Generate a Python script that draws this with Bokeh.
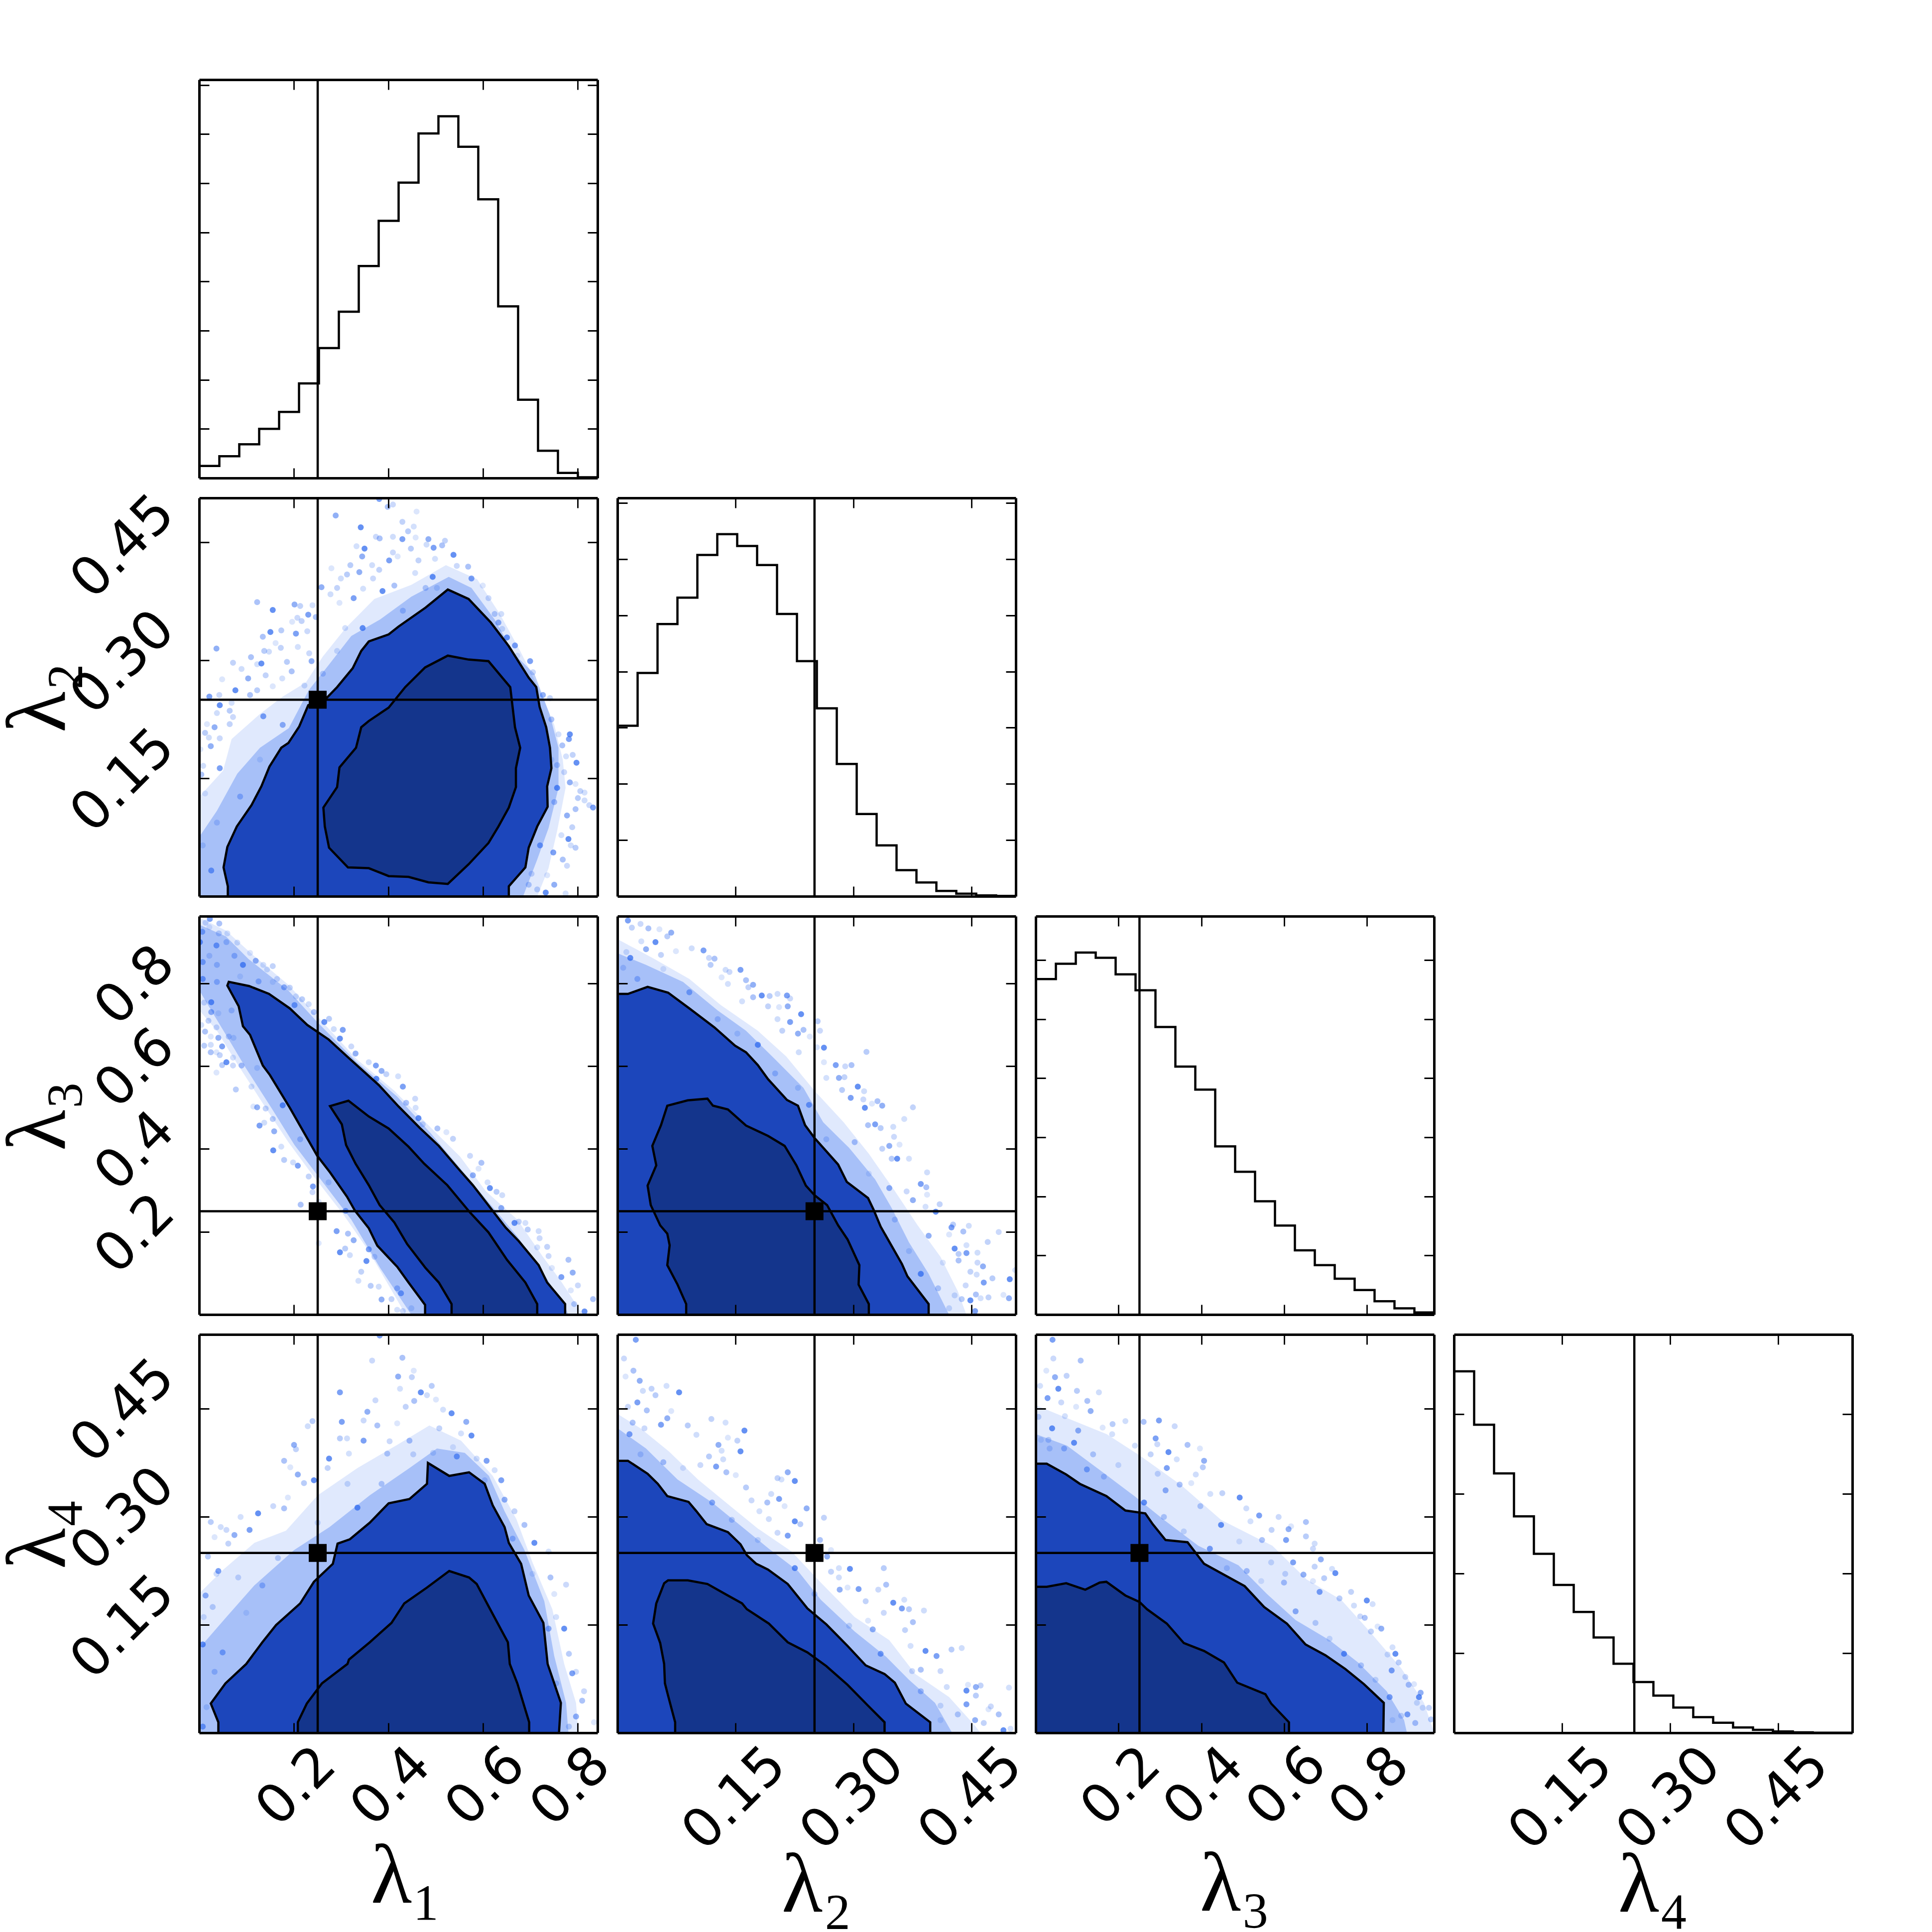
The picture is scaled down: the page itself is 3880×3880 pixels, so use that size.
from bokeh.plotting import figure
from bokeh.layouts import column, row as hrow
from bokeh.models import Range1d, LinearAxis, FixedTicker, Span, ColumnDataSource
from bokeh.embed import file_html
from bokeh.resources import INLINE
import math

# parameter axes
LIMITS = {1: 0.842, 2: 0.506, 3: 0.962, 4: 0.553}
TICKS = {1: [0.2, 0.4, 0.6, 0.8], 2: [0.15, 0.30, 0.45], 3: [0.2, 0.4, 0.6, 0.8], 4: [0.15, 0.30, 0.45]}
TICK_LABELS = {1: ["0.2", "0.4", "0.6", "0.8"], 2: ["0.15", "0.30", "0.45"], 3: ["0.2", "0.4", "0.6", "0.8"], 4: ["0.15", "0.30", "0.45"]}
NAMES = {1: "λ₁", 2: "λ₂", 3: "λ₃", 4: "λ₄"}
TRUTH = {1: 0.25, 2: 0.25, 3: 0.25, 4: 0.25}

# histograms (20 bins over each axis)
HIST = {
    1: [.25, .448, .693, 1.007, 1.35, 1.93, 2.65, 3.39, 4.32, 5.24, 6.02, 7.02, 7.37, 6.75, 5.68, 3.50, 1.60, .56, .11, .02],
    2: [3.04, 3.98, 4.85, 5.32, 6.08, 6.45, 6.24, 5.90, 5.03, 4.19, 3.35, 2.36, 1.47, .91, .47, .25, .10, .05, .02, .01],
    3: [5.68, 5.94, 6.13, 6.04, 5.76, 5.49, 4.87, 4.20, 3.81, 2.85, 2.42, 1.92, 1.51, 1.09, .84, .61, .42, .23, .11, .04],
    4: [4.54, 3.87, 3.26, 2.72, 2.25, 1.86, 1.52, 1.20, .87, .64, .47, .32, .20, .13, .07, .04, .02, .01, .004, .004],
}
HIST_TOP = {1: 8.11, 2: 7.09, 3: 6.74, 4: 5.0}
HIST_YTICKS = {1: [1, 2, 3, 4, 5, 6, 7, 8], 2: [1, 2, 3, 4, 5, 6, 7], 3: [1, 2, 3, 4, 5, 6], 4: [1, 2, 3, 4]}

# contours
OUTER_21 = [(.060,0),(.060,.013),(.051,.037),(.059,.063),(.079,.089),(.110,.116),(.131,.140),(.148,.165),(.173,.189),(.188,.195),(.211,.216),(.230,.243),(.270,.253),(.291,.266),(.324,.290),(.342,.312),(.358,.324),(.400,.333),(.421,.343),(.478,.367),(.525,.390),(.569,.378),(.616,.348),(.654,.318),(.696,.278),(.712,.266),(.719,.241),(.733,.215),(.741,.189),(.744,.163),(.735,.140),(.736,.114),(.714,.089),(.696,.062),(.689,.037),(.654,.013),(.654,0)]
INNER_21 = [(.262,.113),(.265,.089),(.274,.062),(.314,.037),(.358,.036),(.400,.026),(.442,.025),(.484,.018),(.525,.016),(.569,.041),(.611,.068),(.632,.089),(.654,.113),(.669,.139),(.669,.163),(.678,.189),(.667,.215),(.657,.266),(.611,.299),(.569,.301),(.525,.306),(.477,.291),(.435,.266),(.400,.240),(.358,.223),(.342,.215),(.331,.189),(.296,.164),(.291,.139)]
OUTER_31 = [(.059,.795),(.062,.804),(.105,.794),(.147,.775),(.191,.740),(.228,.700),(.273,.665),(.315,.621),(.379,.555),(.421,.503),(.466,.451),(.506,.408),(.551,.348),(.578,.313),(.620,.251),(.647,.211),(.675,.178),(.717,.120),(.735,.078),(.773,.026),(.773,0),(.477,0),(.477,.024),(.442,.078),(.418,.116),(.376,.167),(.358,.209),(.329,.251),(.312,.285),(.276,.344),(.249,.384),(.231,.420),(.191,.500),(.149,.579),(.134,.602),(.107,.676),(.092,.697),(.083,.745)]
INNER_31 = [(.276,.504),(.315,.517),(.358,.479),(.400,.450),(.442,.406),(.475,.365),(.524,.313),(.572,.247),(.611,.199),(.650,.133),(.689,.078),(.714,.026),(.714,0),(.533,0),(.533,.026),(.506,.078),(.478,.113),(.439,.171),(.412,.223),(.381,.265),(.358,.313),(.330,.365),(.310,.410),(.301,.460)]
OUTER_41 = [(.040,0),(.040,.015),(.024,.041),(.055,.069),(.099,.096),(.133,.126),(.162,.150),(.213,.180),(.242,.210),(.282,.235),(.292,.263),(.318,.269),(.360,.292),(.400,.319),(.444,.325),(.481,.346),(.483,.375),(.528,.357),(.570,.362),(.603,.346),(.620,.316),(.645,.286),(.654,.264),(.680,.235),(.696,.191),(.727,.153),(.736,.096),(.764,.042),(.760,0)]
INNER_41 = [(.208,0),(.208,.015),(.227,.041),(.259,.069),(.313,.096),(.316,.102),(.360,.126),(.406,.153),(.433,.180),(.481,.202),(.528,.225),(.570,.216),(.586,.207),(.612,.175),(.652,.126),(.656,.096),(.672,.069),(.697,.015),(.697,0)]
OUTER_32 = [(0,.775),(.013,.775),(.038,.792),(.064,.778),(.091,.740),(.123,.694),(.149,.650),(.163,.634),(.178,.603),(.191,.569),(.215,.519),(.229,.505),(.238,.458),(.250,.427),(.280,.363),(.291,.321),(.318,.282),(.325,.254),(.334,.213),(.361,.123),(.368,.093),(.395,.026),(.395,0),(0,0)]
INNER_32 = [(.087,0),(.087,.026),(.076,.073),(.063,.120),(.066,.168),(.063,.196),(.054,.216),(.042,.265),(.038,.312),(.049,.361),(.044,.408),(.055,.458),(.063,.505),(.089,.518),(.114,.522),(.121,.505),(.140,.496),(.163,.457),(.191,.432),(.212,.408),(.227,.361),(.239,.312),(.250,.289),(.266,.265),(.280,.216),(.292,.182),(.307,.120),(.306,.073),(.319,.026),(.319,0)]
OUTER_42 = [(0,.378),(.013,.378),(.038,.360),(.051,.346),(.063,.329),(.090,.321),(.100,.308),(.113,.290),(.140,.279),(.156,.262),(.164,.247),(.176,.235),(.191,.227),(.216,.207),(.241,.173),(.265,.151),(.292,.121),(.315,.094),(.339,.082),(.352,.070),(.366,.041),(.397,.015),(.397,0),(0,0)]
INNER_42 = [(.073,0),(.073,.015),(.064,.052),(.060,.069),(.059,.096),(.054,.125),(.045,.152),(.049,.180),(.059,.208),(.064,.212),(.089,.212),(.114,.207),(.140,.191),(.158,.180),(.164,.172),(.192,.152),(.216,.126),(.241,.112),(.265,.093),(.292,.067),(.318,.038),(.339,.015),(.339,0)]
OUTER_43 = [(0,.374),(.026,.374),(.073,.359),(.106,.346),(.170,.329),(.216,.309),(.264,.305),(.282,.290),(.313,.268),(.366,.265),(.406,.235),(.504,.204),(.551,.175),(.606,.152),(.651,.123),(.699,.108),(.747,.089),(.792,.068),(.840,.042),(.839,0),(0,0)]
INNER_43 = [(0,.203),(.026,.203),(.073,.208),(.119,.199),(.154,.209),(.170,.210),(.216,.191),(.250,.182),(.268,.172),(.316,.152),(.357,.125),(.406,.114),(.454,.098),(.486,.070),(.554,.054),(.568,.041),(.611,.015),(.611,0),(0,0)]

# extent of each sample cloud (faint outskirts)
CLOUD_21 = [(0,.127),(.050,.160),(.068,.200),(.128,.232),(.176,.254),(.225,.272),(.261,.305),(.309,.341),(.370,.378),(.448,.396),(.521,.421),(.587,.403),(.635,.359),(.678,.312),(.720,.261),(.750,.218),(.768,.174),(.774,.138),(.756,.083),(.738,.036),(.714,0),(0,0)]
CLOUD_31 = [(0,.959),(.056,.928),(.116,.866),(.188,.797),(.249,.721),(.333,.617),(.412,.541),(.490,.451),(.551,.382),(.605,.299),(.672,.230),(.726,.140),(.762,.085),(.811,0),(.436,0),(.358,.154),(.303,.244),(.237,.341),(.188,.417),(.140,.500),(.074,.617),(.037,.686),(0,.735)]
CLOUD_41 = [(0,.194),(.049,.226),(.116,.264),(.183,.281),(.250,.330),(.334,.368),(.418,.400),(.486,.427),(.553,.406),(.620,.357),(.670,.297),(.704,.237),(.746,.172),(.771,.096),(.796,.042),(.801,0),(0,0)]
CLOUD_32 = [(0,.907),(.047,.859),(.091,.811),(.131,.748),(.178,.686),(.214,.624),(.250,.541),(.287,.465),(.319,.389),(.352,.299),(.381,.216),(.410,.140),(.432,.057),(.443,0),(0,0)]
CLOUD_42 = [(0,.443),(.029,.423),(.065,.391),(.102,.352),(.142,.316),(.178,.284),(.221,.252),(.258,.209),(.301,.161),(.345,.129),(.378,.082),(.421,.050),(.454,.010),(.461,0),(0,0)]
CLOUD_43 = [(0,.455),(.068,.439),(.171,.415),(.254,.384),(.351,.344),(.447,.296),(.571,.260),(.654,.213),(.737,.185),(.806,.141),(.882,.090),(.937,.042),(.962,0),(0,0)]

# densest part of each sample cloud
DENSE_21 = [(0,.076),(.037,.109),(.080,.156),(.128,.189),(.189,.214),(.231,.262),(.273,.294),(.321,.331),(.382,.352),(.448,.381),(.527,.406),(.575,.392),(.624,.352),(.665,.308),(.708,.283),(.740,.232),(.759,.189),(.759,.138),(.738,.087),(.714,.047),(.684,0),(0,0)]
DENSE_31 = [(0,.942),(.056,.914),(.104,.859),(.188,.783),(.249,.707),(.333,.610),(.418,.527),(.490,.437),(.551,.354),(.611,.272),(.672,.189),(.720,.113),(.774,.016),(.780,0),(.448,0),(.382,.113),(.321,.230),(.261,.320),(.201,.410),(.152,.500),(.098,.596),(.062,.665),(.025,.735),(0,.783)]
DENSE_41 = [(0,.118),(.057,.161),(.116,.205),(.200,.254),(.275,.286),(.360,.330),(.444,.368),(.502,.395),(.561,.389),(.612,.357),(.645,.308),(.687,.254),(.729,.183),(.750,.107),(.775,.042),(.780,0),(0,0)]
DENSE_32 = [(0,.873),(.036,.845),(.083,.804),(.127,.735),(.163,.686),(.200,.617),(.236,.548),(.261,.465),(.294,.403),(.327,.327),(.348,.258),(.370,.175),(.395,.099),(.421,0),(0,0)]
DENSE_42 = [(0,.423),(.036,.395),(.076,.352),(.120,.320),(.156,.288),(.192,.256),(.229,.225),(.258,.185),(.301,.141),(.341,.106),(.370,.074),(.403,.042),(.425,0),(0,0)]
DENSE_43 = [(0,.415),(.075,.399),(.157,.364),(.240,.328),(.309,.296),(.392,.260),(.489,.233),(.558,.193),(.627,.157),(.709,.129),(.778,.098),(.847,.058),(.889,.018),(.896,0),(0,0)]

# individual samples
SAMPLES_21 = [(.380,.505),(.409,.498),(.398,.495),(.459,.489),(.288,.484),(.429,.476),(.453,.470),(.341,.469),(.441,.464),(.409,.457),(.429,.454),(.373,.457),(.381,.455),(.457,.456),(.484,.454),(.519,.452),(.332,.445),(.349,.442),(.447,.442),(.480,.447),(.495,.443),(.409,.437),(.513,.446),(.419,.432),(.344,.432),(.463,.427),(.498,.429),(.537,.434),(.319,.421),(.365,.421),(.401,.427),(.544,.420),(.568,.419),(.279,.417),(.338,.412),(.380,.415),(.456,.411),(.493,.406),(.312,.409),(.299,.404),(.575,.404),(.367,.404),(.412,.395),(.599,.395),(.258,.393),(.291,.392),(.346,.391),(.387,.388),(.478,.392),(.277,.384),(.326,.379),(.611,.379),(.122,.374),(.296,.373),(.201,.371),(.213,.369),(.239,.370),(.155,.364),(.624,.359),(.638,.359),(.230,.358),(.207,.354),(.246,.355),(.196,.349),(.632,.348),(.216,.350),(.308,.341),(.150,.336),(.173,.338),(.640,.340),(.204,.334),(.228,.337),(.134,.330),(.161,.322),(.036,.315),(.172,.316),(.208,.317),(.650,.329),(.137,.312),(.147,.311),(.667,.319),(.232,.309),(.109,.304),(.672,.306),(.237,.299),(.071,.297),(.122,.295),(.131,.296),(.185,.298),(.089,.289),(.699,.299),(.705,.285),(.195,.286),(.048,.276),(.103,.277),(.140,.281),(.175,.277),(.076,.262),(.122,.262),(.222,.268),(.021,.254),(.042,.256),(.107,.256),(.155,.267),(.726,.256),(.741,.252),(.068,.246),(.043,.243),(.064,.236),(.037,.233),(.135,.229),(.071,.228),(.744,.225),(.016,.219),(.032,.215),(.064,.219),(.759,.206),(.783,.206),(.012,.208),(.020,.202),(.781,.200),(.043,.201),(.767,.192),(.002,.187),(.024,.191),(.789,.180),(.775,.178),(.797,.170),(.756,.167),(.008,.166),(.043,.163),(.771,.158),(.004,.155),(.795,.143),(.783,.145),(.805,.134),(.814,.132),(.756,.138),(.800,.125),(.814,.122),(.832,.113),(.824,.116),(.795,.111),(.012,.131),(.777,.103),(.788,.088),(.765,.078),(.780,.073),(.795,.062),(.785,.065),(.748,.056),(.777,.039),(.768,.047),(.735,.027),(.750,.015),(.714,.009),(.774,.004),(.732,.005),(.696,.015),(.007,.065),(.025,.033),(.037,.094),(.086,.127),(.128,.174),(.176,.218),(.261,.283),(.291,.312),(.345,.341),(.430,.363),(.502,.392),(.720,.065),(.702,.029),(.750,.120),(.744,.174)]
SAMPLES_31 = [(.022,.956),(.013,.947),(.042,.945),(.021,.936),(.006,.925),(.041,.921),(.059,.921),(.001,.900),(.057,.900),(.080,.899),(.036,.892),(.021,.867),(.074,.867),(.107,.874),(.119,.855),(.155,.842),(.135,.845),(.092,.845),(.037,.845),(.143,.834),(.007,.811),(.164,.811),(.125,.805),(.155,.804),(.179,.791),(.191,.790),(.204,.769),(.025,.755),(.217,.762),(.231,.750),(.201,.748),(.010,.754),(.242,.731),(.040,.728),(.025,.731),(.019,.710),(.004,.700),(.264,.707),(.274,.715),(.284,.690),(.303,.688),(.036,.694),(.012,.684),(.024,.672),(.040,.669),(.062,.672),(.072,.669),(.297,.667),(.010,.650),(.024,.652),(.048,.648),(.321,.648),(.024,.634),(.036,.634),(.330,.631),(.043,.627),(.071,.621),(.057,.610),(.048,.603),(.358,.610),(.373,.602),(.071,.602),(.089,.602),(.036,.585),(.385,.589),(.395,.581),(.420,.576),(.374,.570),(.077,.544),(.110,.551),(.430,.551),(.456,.522),(.437,.512),(.114,.503),(.122,.501),(.140,.498),(.457,.500),(.463,.475),(.155,.473),(.137,.464),(.127,.457),(.472,.460),(.503,.450),(.522,.441),(.158,.443),(.536,.425),(.173,.406),(.156,.397),(.179,.374),(.198,.368),(.208,.360),(.572,.384),(.596,.367),(.590,.353),(.578,.337),(.231,.334),(.609,.320),(.614,.306),(.628,.297),(.640,.289),(.240,.310),(.239,.296),(.214,.266),(.252,.273),(.638,.258),(.675,.225),(.689,.222),(.666,.222),(.694,.206),(.717,.202),(.290,.202),(.719,.185),(.314,.196),(.252,.173),(.326,.180),(.735,.164),(.714,.163),(.297,.151),(.308,.160),(.318,.144),(.358,.158),(.738,.142),(.780,.133),(.745,.113),(.789,.102),(.342,.104),(.336,.082),(.353,.130),(.362,.070),(.379,.068),(.765,.091),(.800,.071),(.832,.038),(.785,.059),(.385,.037),(.406,.038),(.418,.012),(.814,.008),(.792,.026),(.448,.016),(.426,.052),(.430,.009),(.037,.804),(.086,.817),(.007,.852),(.068,.735),(.122,.596),(.176,.506),(.213,.424),(.273,.320),(.309,.251),(.370,.140),(.418,.064)]
SAMPLES_41 = [(.381,.552),(.365,.517),(.429,.521),(.453,.503),(.420,.495),(.449,.494),(.424,.478),(.468,.473),(.491,.482),(.481,.469),(.297,.473),(.372,.462),(.454,.461),(.500,.463),(.355,.446),(.436,.453),(.515,.449),(.533,.444),(.239,.433),(.229,.426),(.301,.432),(.347,.434),(.376,.427),(.418,.430),(.564,.432),(.507,.423),(.553,.416),(.575,.413),(.297,.409),(.312,.409),(.347,.406),(.402,.405),(.444,.406),(.536,.397),(.200,.400),(.204,.394),(.316,.388),(.274,.381),(.397,.388),(.586,.381),(.607,.378),(.452,.387),(.179,.378),(.192,.369),(.208,.359),(.271,.368),(.624,.365),(.242,.351),(.221,.347),(.313,.346),(.638,.351),(.156,.315),(.179,.312),(.187,.327),(.645,.324),(.666,.308),(.087,.300),(.124,.305),(.024,.293),(.045,.286),(.106,.282),(.057,.282),(.687,.289),(.032,.272),(.074,.275),(.061,.263),(.738,.252),(.708,.264),(.018,.245),(.036,.221),(.040,.225),(.775,.206),(.742,.216),(.750,.193),(.013,.191),(.028,.175),(.754,.161),(.771,.145),(.781,.110),(.796,.085),(.788,.083),(.813,.058),(.809,.045),(.834,.015),(.796,.023),(.781,.009),(.009,.161),(.007,.123),(.032,.085),(.015,.036),(.007,.009),(.082,.216),(.133,.205),(.099,.167),(.049,.112),(.166,.243),(.250,.292),(.334,.313),(.385,.346),(.494,.389),(.544,.384),(.603,.351),(.662,.270),(.704,.221),(.738,.145),(.754,.069)]
SAMPLES_32 = [(.013,.952),(.029,.944),(.039,.933),(.053,.931),(.068,.923),(.018,.935),(.030,.902),(.048,.900),(.063,.914),(.094,.885),(.109,.880),(.116,.862),(.123,.860),(.074,.878),(.036,.883),(.055,.869),(.011,.876),(.016,.862),(.118,.845),(.137,.833),(.156,.833),(.142,.828),(.163,.808),(.132,.815),(.172,.797),(.166,.791),(.140,.799),(.183,.771),(.193,.770),(.203,.775),(.215,.771),(.219,.764),(.172,.767),(.205,.743),(.216,.745),(.191,.745),(.158,.757),(.233,.726),(.254,.709),(.203,.714),(.219,.707),(.257,.686),(.236,.688),(.244,.672),(.229,.679),(.209,.686),(.253,.646),(.262,.645),(.316,.635),(.230,.634),(.277,.603),(.289,.600),(.297,.603),(.262,.610),(.281,.572),(.288,.574),(.265,.572),(.305,.551),(.285,.543),(.313,.540),(.296,.524),(.312,.520),(.330,.516),(.323,.510),(.336,.505),(.375,.501),(.364,.473),(.314,.500),(.334,.451),(.350,.454),(.327,.460),(.351,.430),(.318,.458),(.358,.411),(.345,.408),(.336,.401),(.370,.377),(.355,.377),(.348,.377),(.393,.344),(.385,.316),(.367,.298),(.392,.308),(.393,.290),(.375,.277),(.409,.267),(.391,.261),(.404,.249),(.426,.218),(.446,.215),(.424,.211),(.484,.200),(.439,.201),(.421,.194),(.395,.191),(.470,.176),(.443,.168),(.428,.160),(.433,.147),(.457,.150),(.443,.149),(.457,.126),(.433,.131),(.413,.126),(.464,.117),(.448,.104),(.505,.108),(.498,.086),(.476,.088),(.456,.097),(.465,.078),(.442,.071),(.455,.049),(.490,.048),(.497,.040),(.471,.042),(.461,.040),(.448,.035),(.437,.038),(.428,.047),(.454,.009),(.007,.838),(.025,.811),(.058,.835),(.091,.779),(.127,.714),(.152,.679),(.178,.652),(.200,.583),(.229,.548),(.243,.507),(.265,.424),(.301,.417),(.319,.341),(.345,.306),(.352,.230),(.370,.154),(.385,.099),(.407,.064),(.421,.016)]
SAMPLES_42 = [(.023,.546),(.008,.520),(.020,.503),(.010,.495),(.028,.489),(.043,.478),(.062,.482),(.078,.473),(.048,.469),(.032,.475),(.025,.459),(.013,.453),(.037,.448),(.068,.447),(.063,.437),(.119,.436),(.137,.431),(.161,.420),(.089,.427),(.100,.414),(.055,.428),(.034,.423),(.019,.431),(.140,.410),(.128,.400),(.152,.406),(.132,.392),(.156,.391),(.116,.384),(.134,.380),(.125,.370),(.105,.372),(.138,.362),(.150,.358),(.216,.362),(.203,.354),(.208,.352),(.225,.350),(.163,.341),(.195,.332),(.205,.325),(.170,.323),(.190,.320),(.212,.315),(.240,.312),(.262,.299),(.180,.308),(.225,.294),(.232,.290),(.192,.297),(.216,.274),(.203,.278),(.257,.268),(.271,.254),(.266,.245),(.271,.224),(.281,.229),(.295,.228),(.338,.229),(.281,.216),(.306,.200),(.331,.199),(.341,.206),(.292,.202),(.282,.199),(.315,.183),(.364,.185),(.350,.181),(.370,.172),(.389,.170),(.361,.173),(.338,.167),(.375,.154),(.318,.156),(.324,.144),(.365,.143),(.372,.121),(.391,.114),(.424,.116),(.437,.118),(.405,.107),(.410,.086),(.385,.088),(.445,.067),(.455,.064),(.461,.066),(.497,.063),(.443,.059),(.455,.052),(.418,.064),(.443,.040),(.474,.037),(.484,.026),(.471,.033),(.454,.018),(.465,.014),(.499,.006),(.490,.004),(.432,.026),(.410,.038),(.015,.415),(.029,.387),(.058,.376),(.083,.368),(.120,.320),(.145,.296),(.178,.268),(.225,.229),(.250,.193),(.294,.149),(.334,.110),(.374,.086),(.385,.058),(.410,.018)]
SAMPLES_43 = [(.040,.546),(.042,.520),(.108,.517),(.025,.503),(.046,.494),(.074,.496),(.010,.482),(.054,.478),(.099,.475),(.152,.473),(.028,.465),(.061,.459),(.124,.461),(.097,.453),(.132,.447),(.006,.439),(.070,.440),(.039,.423),(.185,.429),(.216,.433),(.297,.434),(.335,.426),(.260,.432),(.161,.424),(.102,.420),(.030,.407),(.184,.415),(.092,.403),(.138,.387),(.239,.399),(.289,.409),(.293,.401),(.366,.400),(.396,.395),(.406,.378),(.277,.387),(.340,.380),(.320,.390),(.403,.369),(.386,.359),(.316,.368),(.294,.360),(.347,.345),(.375,.347),(.313,.337),(.450,.333),(.421,.332),(.492,.327),(.397,.315),(.508,.312),(.539,.302),(.586,.300),(.652,.293),(.616,.287),(.610,.283),(.569,.282),(.518,.294),(.447,.289),(.652,.273),(.673,.263),(.604,.268),(.669,.256),(.546,.268),(.491,.266),(.688,.241),(.673,.231),(.715,.228),(.723,.222),(.696,.215),(.568,.237),(.621,.237),(.602,.221),(.599,.209),(.669,.211),(.646,.220),(.761,.196),(.813,.179),(.799,.184),(.733,.187),(.768,.177),(.685,.196),(.783,.162),(.794,.160),(.825,.148),(.834,.145),(.809,.141),(.861,.119),(.868,.110),(.876,.098),(.849,.109),(.859,.087),(.892,.078),(.900,.067),(.913,.068),(.929,.056),(.949,.035),(.934,.035),(.925,.050),(.954,.019),(.920,.042),(.897,.026),(.033,.395),(.068,.395),(.012,.407),(.123,.366),(.164,.356),(.199,.372),(.261,.320),(.309,.300),(.357,.280),(.420,.256),(.461,.229),(.509,.225),(.544,.211),(.627,.169),(.675,.153),(.709,.131),(.744,.110),(.785,.094),(.820,.074),(.854,.050),(.882,.024),(.916,.014),(.861,.018)]

PANELS = {
    (2, 1): (SAMPLES_21, CLOUD_21, DENSE_21, OUTER_21, INNER_21),
    (3, 1): (SAMPLES_31, CLOUD_31, DENSE_31, OUTER_31, INNER_31),
    (4, 1): (SAMPLES_41, CLOUD_41, DENSE_41, OUTER_41, INNER_41),
    (3, 2): (SAMPLES_32, CLOUD_32, DENSE_32, OUTER_32, INNER_32),
    (4, 2): (SAMPLES_42, CLOUD_42, DENSE_42, OUTER_42, INNER_42),
    (4, 3): (SAMPLES_43, CLOUD_43, DENSE_43, OUTER_43, INNER_43),
}

# styling
BLACK = "#000000"
SPINE = 5.0
TICK_W = 2.8
TICK_LEN = 20
LINE_W = 4.5
DOT = "#2462ee"
DOT_ALPHAS = [.6, .24, .38, .16, .5, .28, .2, .7, .32, .22]
OUTER_FILL = "#1c46bb"
INNER_FILL = "#14358c"
FONT = "DejaVu Sans"
TICK_PX = "108px"
NAME_PX = "170px"
FRAME = 800
WIDE = 830  # the lower-left panel's frame is wider so that its last tick label can be anchored
SHIFT = {3: 61, 4: 78}
YSHIFT = {3: 61, 4: 85}
X_STANDOFF = 42
Y_STANDOFF = 73
X_NAME_STANDOFF = {1: -34, 2: -64, 3: -18, 4: -64}
Y_NAME_STANDOFF = {3: -21, 4: -69}
OVER = 100


def style_spine(ax, ticks):
    ax.ticker = FixedTicker(ticks=ticks)
    ax.major_label_overrides = {t: "" for t in ticks}
    ax.major_tick_in = TICK_LEN
    ax.major_tick_out = 0
    ax.major_tick_line_width = TICK_W
    ax.major_tick_line_color = BLACK
    ax.minor_tick_line_color = None
    ax.axis_line_width = SPINE
    ax.axis_line_color = BLACK
    ax.major_label_standoff = 0
    ax.major_label_text_font_size = "0px"


def style_name(ax, name, standoff):
    ax.axis_label = name
    ax.axis_label_text_font = "Liberation Serif"
    ax.axis_label_text_font_style = "normal"
    ax.axis_label_text_font_size = NAME_PX
    ax.axis_label_text_color = BLACK
    ax.axis_label_standoff = standoff


def label_axis(range_name, side, ticks, labels, standoff):
    kw = {"x_range_name" if side == "below" else "y_range_name": range_name}
    ax = LinearAxis(**kw)
    ax.ticker = FixedTicker(ticks=ticks)
    ax.major_label_overrides = dict(zip(ticks, labels))
    ax.major_label_orientation = math.pi / 4
    ax.major_label_standoff = standoff
    ax.major_label_text_font = FONT
    ax.major_label_text_font_size = TICK_PX
    ax.major_label_text_color = BLACK
    ax.major_tick_in = 0
    ax.major_tick_out = 0
    ax.major_tick_line_color = None
    ax.minor_tick_line_color = None
    ax.axis_line_color = None
    return ax


def make_fig(row, col, ymax, yticks):
    special = (row == 4 and col == 1)
    first = col == 1 and row > 1
    left = 400 + OVER if first else (400 if col == 1 else 20)
    top = 160 if row == 1 else 20
    bottom = 400 + OVER if row == 4 else 20
    fw = WIDE if special else FRAME
    right = 0 if special else 20
    xmax = LIMITS[col] * fw / FRAME
    mr = -10 if special else 0
    mb = -OVER if row == 4 else 0
    ml = -OVER if first else 0
    p = figure(width=left + fw + right, height=top + FRAME + bottom,
               x_range=Range1d(0, xmax), y_range=Range1d(0, ymax),
               x_axis_location=None, y_axis_location=None,
               toolbar_location=None, output_backend="svg",
               min_border_left=left, min_border_right=right, min_border_top=top, min_border_bottom=bottom)
    p.margin = (0, mr, mb, ml)
    p.outline_line_color = None
    p.grid.visible = False
    p.background_fill_color = "white"
    for side, ticks in (("below", TICKS[col]), ("above", TICKS[col]), ("left", yticks), ("right", yticks)):
        ax = LinearAxis()
        style_spine(ax, ticks)
        if special and side in ("below", "above"):
            ax.bounds = (0, LIMITS[col])
        if special and side == "right":
            ax.fixed_location = LIMITS[col]
        p.add_layout(ax, side)
    return p


def add_tick_labels(p, row, col):
    if row == 4:
        n = len(TICK_LABELS[col][0])
        d = SHIFT[n] * LIMITS[col] / FRAME
        special = col == 1
        span = p.x_range.end
        p.extra_x_ranges = {"xlab": Range1d(-d, span - d)}
        ax = label_axis("xlab", "below", TICKS[col], TICK_LABELS[col], X_STANDOFF)
        if special:
            p.add_layout(ax, "below")
            nm = LinearAxis()
            nm.ticker = FixedTicker(ticks=[])
            nm.bounds = (0, LIMITS[col])
            nm.major_tick_line_color = None
            nm.minor_tick_line_color = None
            nm.axis_line_color = None
            nm.major_label_text_font_size = "0px"
            nm.major_label_standoff = 0
            nm.major_tick_in = 0
            nm.major_tick_out = 0
            style_name(nm, NAMES[col], X_NAME_STANDOFF[col])
            p.add_layout(nm, "below")
        else:
            style_name(ax, NAMES[col], X_NAME_STANDOFF[col])
            p.add_layout(ax, "below")
    if col == 1 and row > 1:
        n = len(TICK_LABELS[row][0])
        d = YSHIFT[n] * LIMITS[row] / FRAME
        p.extra_y_ranges = {"ylab": Range1d(-d, LIMITS[row] - d)}
        ax = label_axis("ylab", "left", TICKS[row], TICK_LABELS[row], Y_STANDOFF)
        style_name(ax, NAMES[row], Y_NAME_STANDOFF[n])
        p.add_layout(ax, "left")


rows = []
for row in range(1, 5):
    figs = []
    for col in range(1, row + 1):
        if row == col:
            p = make_fig(row, col, HIST_TOP[col], HIST_YTICKS[col])
            n = len(HIST[col])
            w = LIMITS[col] / n
            xs, ys = [], []
            for i, h in enumerate(HIST[col]):
                xs += [i * w, (i + 1) * w]
                ys += [h, h]
            p.line(xs, ys, line_color=BLACK, line_width=LINE_W, line_join="miter")
            p.add_layout(Span(location=TRUTH[col], dimension="height", line_color=BLACK, line_width=LINE_W))
        else:
            samples, cloud, dense, outer, inner = PANELS[(row, col)]
            p = make_fig(row, col, LIMITS[row], TICKS[row])
            p.patch([a for a, _ in cloud], [b for _, b in cloud], fill_color=DOT, fill_alpha=0.14, line_color=None)
            p.patch([a for a, _ in dense], [b for _, b in dense], fill_color=DOT, fill_alpha=0.3, line_color=None)
            src = ColumnDataSource(dict(
                x=[a for a, _ in samples], y=[b for _, b in samples],
                alpha=[DOT_ALPHAS[i % len(DOT_ALPHAS)] for i in range(len(samples))]))
            p.scatter("x", "y", source=src, size=12, fill_color=DOT, fill_alpha="alpha", line_color=None)
            p.patch([a for a, _ in outer], [b for _, b in outer], fill_color=OUTER_FILL, line_color=BLACK, line_width=LINE_W, line_join="miter")
            p.patch([a for a, _ in inner], [b for _, b in inner], fill_color=INNER_FILL, line_color=BLACK, line_width=LINE_W, line_join="miter")
            p.add_layout(Span(location=TRUTH[col], dimension="height", line_color=BLACK, line_width=LINE_W))
            p.line([0, LIMITS[col]], [TRUTH[row], TRUTH[row]], line_color=BLACK, line_width=LINE_W)
            p.scatter([TRUTH[col]], [TRUTH[row]], marker="square", size=36, fill_color=BLACK, line_color=None, level="overlay")
        add_tick_labels(p, row, col)
        figs.append(p)
    rows.append(hrow(figs, spacing=0))

layout = column(rows, spacing=0)
open("out.html", "w").write(file_html(layout, INLINE))
